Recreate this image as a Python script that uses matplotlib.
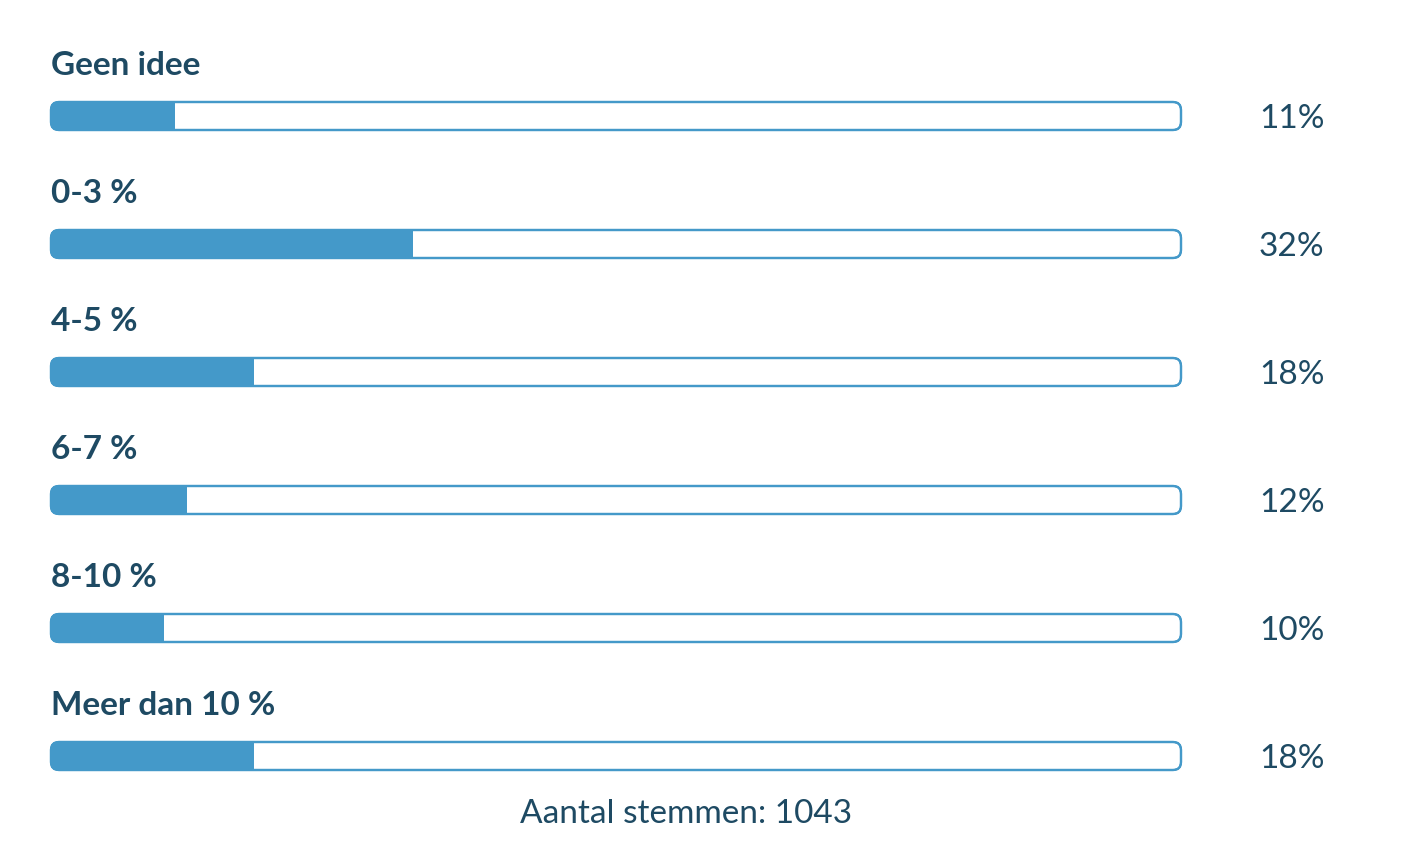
import matplotlib
matplotlib.use("Agg")
from matplotlib import pyplot as plt
from matplotlib.patches import FancyBboxPatch, Rectangle

labels = ["Geen idee", "0-3 %", "4-5 %", "6-7 %", "8-10 %", "Meer dan 10 %"]
percents = [11, 32, 18, 12, 10, 18]
total_votes = 1043

blue = "#4499c9"
navy = "#1e4a63"

fig = plt.figure(figsize=(14.1, 8.6), dpi=100)
ax = fig.add_axes([0, 0, 1, 1])
ax.set_xlim(0, 1410)
ax.set_ylim(860, 0)
ax.axis("off")

left, right = 51, 1181
width = right - left
bar_h = 28
first_top = 102
step = 128

for i, (lab, p) in enumerate(zip(labels, percents)):
    top = first_top + i * step
    frame = FancyBboxPatch((left, top), width, bar_h,
                           boxstyle="round,pad=0,rounding_size=8",
                           facecolor="white", edgecolor=blue, linewidth=1.6,
                           zorder=2)
    ax.add_patch(frame)
    fill = Rectangle((left, top), width * p / 100.0, bar_h,
                     facecolor=blue, edgecolor="none", zorder=3)
    ax.add_patch(fill)
    fill.set_clip_path(frame)
    # outline again on top of the fill
    outline = FancyBboxPatch((left, top), width, bar_h,
                             boxstyle="round,pad=0,rounding_size=8",
                             facecolor="none", edgecolor=blue, linewidth=1.6,
                             zorder=4)
    ax.add_patch(outline)
    ax.text(left, top - 27, lab, fontsize=24, fontweight="bold",
            family="Lato", color=navy, ha="left", va="baseline")
    ax.text(1259, top + bar_h / 2 + 3, "%d%%" % p, fontsize=24,
            family="Lato", color=navy, ha="left", va="center")

ax.text(686, 814, "Aantal stemmen: %d" % total_votes, fontsize=24,
        family="Lato", color=navy, ha="center", va="center")

plt.savefig("out.png", dpi=100)
